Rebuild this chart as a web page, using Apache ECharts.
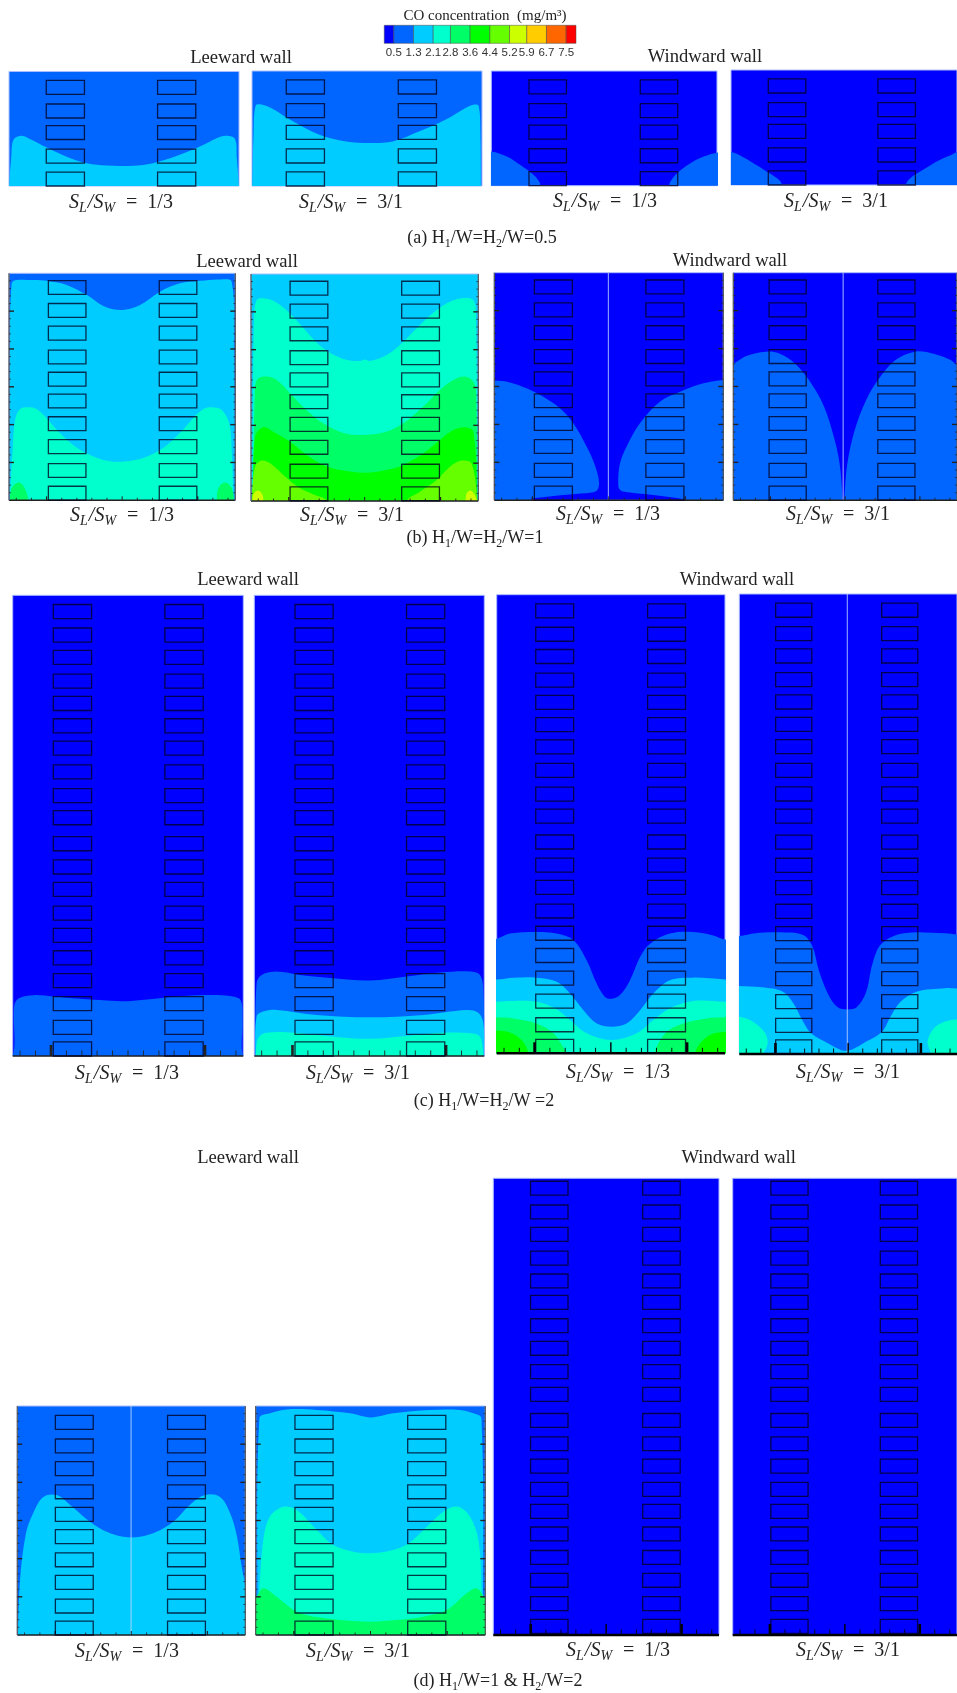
<!DOCTYPE html>
<html><head><meta charset="utf-8">
<style>html,body{margin:0;padding:0;background:#fff}#c{width:957px;height:1693px;filter:blur(0.55px)}</style>
<script src="https://cdn.jsdelivr.net/npm/echarts@6/dist/echarts.min.js"></script>
</head><body><div id="c"></div>
<script>
// ---- colour scale (mg/m3)
const levels = [0.5,1.3,2.1,2.8,3.6,4.4,5.2,5.9,6.7,7.5];
const legendEnds = [0.11,7.9];
const levelColors = ['#0000ff','#0066ff','#00ccff','#00ffcc','#00ff66','#00ff00','#66ff00','#ccff00','#ffcc00','#ff6600','#ff0000'];
// ---- contour boundaries: [position along wall, height in storeys]
const a1L2 = [[.01,0],[.1,1.28],[.19,2.01],[.51,2.19],[.84,2.09],[1.64,1.68],[2.51,1.28],[3.38,.99],[4.25,.89],[4.97,.87],[5.84,.92],[6.57,1.08],[7.43,1.36],[8.3,1.72],[9.03,2.09],[9.46,2.19],[9.83,2.04],[9.9,1.28],[9.99,0]];
const a2L2 = [[.01,0],[.07,2.3],[.16,3.5],[.41,3.54],[.91,3.35],[1.78,2.81],[2.93,2.23],[4.09,1.94],[5.1,1.87],[6.12,1.94],[7.28,2.38],[8.43,2.89],[9.3,3.4],[9.67,3.54],[9.86,3.47],[9.93,2.3],[9.95,0]];
const a3L1a = [[0,1.49],[.69,1.27],[1.29,.9],[1.88,.47],[2.13,.17],[2.17,0]];
const a3L1b = [[10,1.44],[9.41,1.27],[8.82,.98],[8.23,.54],[7.93,.17],[7.89,0]];
const a4L1a = [[0,1.43],[.54,1.21],[1.12,.87],[1.7,.51],[2.13,.22],[2.25,0]];
const a4L1b = [[10,1.42],[9.81,1.34],[9.23,1.09],[8.5,.66],[7.93,.29],[7.74,0]];
const b1L2 = [[.02,0],[.04,6.62],[.12,9.56],[.34,9.7],[1.07,9.7],[1.74,9.66],[2.55,9.49],[3.43,9.05],[4.17,8.56],[4.98,8.38],[5.79,8.6],[6.67,9.19],[7.55,9.56],[8.44,9.67],[9.32,9.73],[9.84,9.63],[9.94,6.62],[9.97,0]];
const b1L3 = [[.04,0],[.16,2.22],[.27,3.55],[.49,4.02],[.85,4.1],[1.22,4.02],[1.66,3.62],[2.25,2.96],[2.92,2.37],[3.73,1.93],[4.46,1.72],[5.2,1.72],[5.93,1.86],[6.81,2.3],[7.55,2.96],[8.14,3.62],[8.59,4.02],[8.95,4.1],[9.4,3.98],[9.73,3.39],[9.84,2.22],[9.91,0]];
const b1L4a = [[.04,0],[.12,.53],[.41,.78],[.66,.6],[.85,0]];
const b1L4b = [[9.18,0],[9.25,.53],[9.54,.78],[9.84,.53],[9.94,0]];
const b2L3 = [[.06,0],[.13,8.12],[.25,8.85],[.54,8.93],[1.06,8.78],[1.72,8.26],[2.45,7.46],[3.18,6.73],[4.06,6.26],[4.79,6.17],[5.01,6.23],[5.23,6.17],[5.97,6.43],[6.7,7.02],[7.43,7.75],[8.17,8.41],[8.75,8.78],[9.27,8.93],[9.78,8.85],[9.9,8.12],[9.96,0]];
const b2L4 = [[.1,0],[.18,5.04],[.32,5.4],[.69,5.48],[1.13,5.33],[1.72,4.74],[2.45,4.0],[3.18,3.42],[4.06,3.0],[5.01,2.91],[5.97,3.06],[6.7,3.42],[7.58,4.16],[8.31,4.89],[8.9,5.33],[9.41,5.48],[9.78,5.26],[9.9,4.74],[9.96,0]];
const b2L5 = [[.1,0],[.18,2.83],[.54,3.25],[.98,3.05],[1.72,2.61],[2.45,2.03],[3.18,1.59],[4.06,1.34],[5.01,1.25],[5.97,1.37],[6.7,1.59],[7.58,2.1],[8.31,2.69],[8.9,3.13],[9.41,3.25],[9.78,3.05],[9.96,0]];
const b2L6a = [[.03,0],[.18,1.51],[.47,1.78],[.84,1.66],[1.42,1.15],[2.16,.56],[2.82,.26],[3.33,0]];
const b2L6b = [[6.85,0],[7.43,.41],[8.17,.93],[8.75,1.51],[9.27,1.78],[9.7,1.66],[9.96,0]];
const b2L7a = [[.06,0],[.13,.34],[.32,.46],[.51,.26],[.54,0]];
const b2L7b = [[9.44,0],[9.49,.34],[9.66,.46],[9.85,.26],[9.93,0]];
const b3L1a = [[0,5.26],[.68,5.18],[1.41,4.92],[2.14,4.55],[2.87,4.04],[3.45,3.38],[4.03,2.36],[4.39,1.55],[4.57,.82],[4.5,.45],[4.25,.34],[3.3,.26],[1.7,.09],[1.57,0]];
const b3L1b = [[10,5.29],[9.13,5.14],[8.11,4.77],[7.23,4.33],[6.36,3.38],[5.78,2.36],[5.49,1.63],[5.41,.82],[5.49,.45],[5.92,.34],[6.94,.23],[8.33,.04],[8.4,0]];
const b4L1a = [[0,6.02],[.58,6.34],[1.45,6.53],[2.03,6.46],[2.75,6.02],[3.48,5.14],[4.06,4.11],[4.49,2.8],[4.75,1.63],[4.88,.23],[4.89,0]];
const b4L1b = [[10,5.95],[9.72,6.16],[8.99,6.43],[8.12,6.53],[7.25,6.16],[6.52,5.36],[5.94,4.41],[5.43,3.09],[5.1,1.63],[4.97,.23],[4.96,0]];
const c1L1 = [[0,0],[.06,2.14],[.25,2.5],[.9,2.64],[1.76,2.58],[2.92,2.48],[4.08,2.41],[5.01,2.38],[5.95,2.46],[7.11,2.58],[8.41,2.65],[9.42,2.61],[9.88,2.43],[9.97,1.57],[10,0]];
const c2L1 = [[.04,0],[.1,3.16],[.32,3.52],[.97,3.67],[1.99,3.52],[3.43,3.38],[5.03,3.28],[6.62,3.45],[8.07,3.62],[9.38,3.67],[9.81,3.52],[9.96,2.87],[9.99,0]];
const c2L2 = [[.04,0],[.1,1.71],[.39,1.93],[.97,2],[2.71,1.78],[5.03,1.68],[7.35,1.78],[9.23,2],[9.74,1.88],[9.96,1.42],[9.99,0]];
const c2L3 = [[.07,0],[.17,.77],[.54,1.01],[1.99,.99],[3.43,.84],[5.03,.75],[6.62,.87],[8.22,1.01],[9.38,.99],[9.81,.84],[9.96,0]];
const c3L1 = [[0,5],[.58,5.22],[1.75,5.29],[2.63,5.22],[3.36,4.93],[3.94,4.06],[4.38,3.04],[4.74,2.46],[5.04,2.38],[5.4,2.54],[5.84,3.19],[6.28,4.2],[6.72,4.78],[7.59,5.22],[8.61,5.29],[9.49,5.14],[10,4.96]];
const c3L2 = [[0,3.22],[.73,3.3],[1.75,3.3],[2.63,3.12],[3.21,2.61],[3.8,1.88],[4.38,1.3],[5.04,1.16],[5.69,1.3],[6.28,1.88],[6.86,2.61],[7.59,3.19],[8.61,3.3],[10,3.22]];
const c3L3 = [[0,2.25],[.73,2.28],[1.75,2.25],[2.55,1.96],[3.21,1.45],[3.94,.87],[5.04,.58],[6.13,.87],[6.86,1.45],[7.59,1.96],[8.61,2.28],[10,2.25]];
const c3L4a = [[0,1.57],[.73,1.52],[1.75,1.3],[2.48,.87],[2.99,.14],[3.07,0]];
const c3L4b = [[10,1.57],[9.2,1.52],[8.18,1.3],[7.45,.94],[7.01,.29],[6.93,0]];
const c3L5a = [[0,.99],[.58,.91],[1.09,.58],[1.39,0]];
const c3L5b = [[10,.94],[9.34,.8],[8.9,.43],[8.69,0]];
const c4L1 = [[0,5.13],[.75,5.25],[1.77,5.29],[2.93,5.17],[3.36,4.67],[3.65,3.65],[4.09,2.58],[4.52,2.03],[4.96,1.94],[5.39,2.03],[5.83,2.71],[6.12,3.94],[6.55,4.81],[7.57,5.25],[9.46,5.25],[10,5.2]];
const c4L2 = [[0,2.96],[1.04,2.9],[2.0,2.71],[2.49,2.2],[2.93,1.41],[3.3,.9],[4.09,.46],[4.93,.14],[5.83,.54],[6.55,.97],[6.99,1.7],[7.42,2.28],[8.14,2.71],[9.46,2.86],[10,2.85]];
const c4L3a = [[0,1.62],[.61,1.41],[1.19,.9],[1.3,.46],[1.12,0]];
const c4L3b = [[10,1.5],[9.46,1.41],[8.94,1.12],[8.65,.54],[8.8,0]];
const d1L2 = [[.03,0],[.12,2.4],[.38,4.44],[.7,5.33],[1.14,6.03],[1.73,6.11],[2.32,5.68],[3.19,4.95],[3.92,4.51],[4.65,4.29],[5.38,4.29],[6.11,4.51],[6.84,4.95],[7.57,5.68],[8.23,6.11],[8.89,6.03],[9.33,5.33],[9.62,4.37],[9.84,2.98],[9.99,2.11],[9.99,0]];
const d2L2 = [[.07,0],[.16,9.46],[.62,9.68],[1.35,9.85],[2.66,9.83],[4.11,9.68],[5.01,9.5],[5.99,9.68],[7.59,9.83],[8.9,9.83],[9.48,9.68],[9.83,9.46],[9.91,0]];
const d2L3 = [[.07,0],[.16,1.97],[.33,4.15],[.62,5.17],[1.2,5.6],[1.79,5.46],[2.66,4.59],[3.38,3.93],[4.25,3.64],[5.01,3.57],[5.85,3.68],[6.65,4],[7.45,4.73],[8.24,5.43],[8.82,5.6],[9.33,5.17],[9.7,4.15],[9.84,1.97],[9.91,0]];
const d2L4 = [[0,1.67],[.33,2.04],[.91,1.67],[1.79,1.02],[2.8,.76],[3.96,.63],[5.01,.58],[6.14,.65],[7.3,.8],[8.32,1.09],[9.19,1.82],[9.62,2.04],[10,1.67]];
// ---- window sills (storeys)
const sillsA = [0,1,2.03,2.97,4];
const sillsB = [.01,1.01,2.06,3.07,4.07,5.03,6.01,7.06,8.06,9.07];
const sillsC = [0,.94,1.97,2.97,3.96,4.93,5.9,6.93,7.9,8.91,10.04,11,12.03,13.06,14.03,15,15.97,17,17.97,18.99];
const sillsD10 = [0,.96,1.99,2.98,3.99,4.96,5.95,6.96,7.95,8.98];
const sillsD20 = [.07,1.07,2.09,3.09,4.12,5.11,6.07,7.09,8.07,9.09,10.23,11.23,12.25,13.24,14.26,15.2,16.2,17.24,18.22,19.26];
const windowSize = [1.66,.61];
// ---- ticks
const tickX = [.32,.99,1.66,2.33,3,3.66,4.33,5,5.67,6.34,7,7.67,8.34,9.01,9.68];
const majorTickX = [1.66,5,8.34];
const sideTickStep = 1/3, sideMajor = 5;
// ---- text
const sideTitles = ['Leeward wall','Windward wall'];
const ratioText = ['1/3','3/1'];
const captionText = ['{n|(a) H}{s|1}{n|/W=H}{s|2}{n|/W=0.5}','{n|(b) H}{s|1}{n|/W=H}{s|2}{n|/W=1}','{n|(c) H}{s|1}{n|/W=H}{s|2}{n|/W =2}','{n|(d) H}{s|1}{n|/W=1 & H}{s|2}{n|/W=2}'];

const frameAir = {edge:'#9fb4ff'};
const panels = [
 {box:[9,71.5,230,114.5],h:5,bg:1,bands:[[2,a1L2]],sills:sillsA,wx:[1.62,6.46]},
 {box:[252,71,230,115],h:5,bg:1,bands:[[2,a2L2]],sills:sillsA,wx:[1.49,6.36]},
 {box:[491.3,71,225.7,114.7],h:5,bg:0,bands:[[1,a3L1a],[1,a3L1b]],sills:sillsA,wx:[1.67,6.6]},
 {box:[731,70,230,115],h:5,bg:0,bands:[[1,a4L1a],[1,a4L1b]],sills:sillsA,wx:[1.65,6.5]},
 {box:[9,273.3,226.3,227],h:10,bg:1,bands:[[2,b1L2],[3,b1L3],[4,b1L4a],[4,b1L4b]],sills:sillsB,wx:[1.74,6.64],tick:'b',side:true},
 {box:[251,274,227.3,227],h:10,bg:2,bands:[[3,b2L3],[4,b2L4],[5,b2L5],[6,b2L6a],[6,b2L6b],[7,b2L7a],[7,b2L7b]],sills:sillsB,wx:[1.72,6.63],tick:'b',side:true},
 {box:[494.3,272.7,229,227.6],h:10,bg:0,bands:[[1,b3L1a],[1,b3L1b]],sills:sillsB,wx:[1.75,6.62],tick:'b',side:true,mid:4.98},
 {box:[733.3,272.7,230,227.6],h:10,bg:0,bands:[[1,b4L1a],[1,b4L1b]],sills:sillsB,wx:[1.6,6.46],tick:'b',side:true,mid:4.91},
 {box:[12.7,595.3,230.6,460.7],h:20,bg:0,bands:[[1,c1L1]],sills:sillsC,wx:[1.76,6.6],tick:'c'},
 {box:[254.3,595.3,230,460.7],h:20,bg:0,bands:[[1,c2L1],[2,c2L2],[3,c2L3]],sills:sillsC,wx:[1.77,6.62],tick:'c'},
 {box:[496.7,594.7,228.3,458.6],h:20,bg:0,bands:[[1,c3L1],[2,c3L2],[3,c3L3],[4,c3L4a],[4,c3L4b],[5,c3L5a],[5,c3L5b]],sills:sillsC,wx:[1.71,6.61],tick:'d'},
 {box:[739.3,594,230,460],h:20,bg:0,bands:[[1,c4L1],[2,c4L2],[3,c4L3a],[3,c4L3b]],sills:sillsC,wx:[1.67,6.54],tick:'d',mid:4.96},
 {box:[17.3,1406,228,229],h:10,bg:1,bands:[[2,d1L2]],sills:sillsD10,wx:[1.67,6.59],tick:'b',side:true,mid:4.99},
 {box:[255.7,1406,229.6,229],h:10,bg:1,bands:[[2,d2L2],[3,d2L3],[4,d2L4]],sills:sillsD10,wx:[1.71,6.62],tick:'b',side:true},
 {box:[493.3,1178.3,225.7,456.7],h:20,bg:0,bands:[],sills:sillsD20,wx:[1.65,6.62],tick:'d'},
 {box:[732.7,1178.3,230,456.7],h:20,bg:0,bands:[],sills:sillsD20,wx:[1.7,6.58],tick:'d'}
];
const tickStyles = {
 b:{minor:2.5,major:4,majorW:1.2,mid:4,midW:1,base:1.6,color:'#222'},
 c:{minor:5.5,major:11,majorW:2.6,mid:5.5,midW:1,base:1.6,color:'#222'},
 d:{minor:5.5,major:11,majorW:2.6,mid:11,midW:1.4,base:2.4,color:'#000'}
};

function outline(pts){
  const p = pts.slice();
  const a = p[0], z = p[p.length-1];
  if (z[0]<=0 || z[0]>=10) p.push([z[0]<=0?-.6:10.6, z[1]]);
  if (a[0]<=0 || a[0]>=10) p.unshift([a[0]<=0?-.6:10.6, a[1]]);
  const l = p[p.length-1], f = p[0];
  p.push([l[0],-1],[f[0],-1]);
  return p;
}

const grid=[],xAxis=[],yAxis=[],series=[],title=[];
panels.forEach((P,i)=>{
  grid.push({left:P.box[0],top:P.box[1],width:P.box[2],height:P.box[3],show:true,backgroundColor:levelColors[P.bg],borderWidth:1,borderColor:'#a9bcff'});
  xAxis.push({type:'value',gridIndex:i,min:0,max:10,show:false});
  yAxis.push({type:'value',gridIndex:i,min:0,max:P.h,show:false});
  series.push({type:'custom',xAxisIndex:i,yAxisIndex:i,clip:true,z:2,silent:true,
    data:P.bands.map((b,k)=>[k]),
    renderItem:(params,api)=>{
      const b=P.bands[api.value(0)];
      return {type:'polygon',shape:{points:outline(b[1]).map(q=>api.coord(q)),smooth:.35},style:{fill:levelColors[b[0]]}};
    }});
  // centre seam + axis frame + ticks
  series.push({type:'custom',xAxisIndex:i,yAxisIndex:i,clip:false,z:3,silent:true,data:[[0]],
    renderItem:(params,api)=>{
      const ch=[];
      const seg=(a,b,w,c)=>ch.push({type:'line',shape:{x1:a[0],y1:a[1],x2:b[0],y2:b[1]},style:{stroke:c,lineWidth:w}});
      if(P.mid!=null) seg(api.coord([P.mid,0]),api.coord([P.mid,P.h]),1,'rgba(190,215,255,.85)');
      if(P.tick){
        const T=tickStyles[P.tick];
        tickX.forEach(x=>{
          const c=api.coord([x,0]);
          const isMid=x===5,isMajor=majorTickX.includes(x)&&!isMid;
          const len=isMid?T.mid:isMajor?T.major:T.minor, w=isMid?T.midW:isMajor?T.majorW:.9;
          seg(c,[c[0],c[1]-len],w,T.color);
        });
        const l=api.coord([0,0]),r=api.coord([10,0]);
        seg(l,r,T.base,T.color);
      }
      if(P.side){
        const l=api.coord([0,0]),t=api.coord([0,P.h]),r=api.coord([10,0]),rt=api.coord([10,P.h]);
        seg(l,t,1.2,'#555'); seg(r,rt,1.2,'#555');
        for(let k=1;k<P.h/sideTickStep;k++){
          const y=Math.round(k)*sideTickStep, L=api.coord([0,y]), R=api.coord([10,y]);
          const len=k%sideMajor===0?5:2;
          seg(L,[L[0]+len,L[1]],k%sideMajor===0?1.4:.7,'#222');
          seg(R,[R[0]-len,R[1]],k%sideMajor===0?1.4:.7,'#222');
        }
      }
      return {type:'group',children:ch};
    }});
  // windows
  const win=[];
  P.wx.forEach(x=>P.sills.forEach(s=>win.push([x,s])));
  series.push({type:'custom',xAxisIndex:i,yAxisIndex:i,clip:false,z:4,silent:true,data:win,
    renderItem:(params,api)=>{
      const a=api.coord([api.value(0),api.value(1)+windowSize[1]]);
      const b=api.coord([api.value(0)+windowSize[0],api.value(1)]);
      return {type:'rect',shape:{x:a[0],y:a[1],width:b[0]-a[0],height:b[1]-a[1]},style:{fill:'none',stroke:'rgba(0,0,30,.78)',lineWidth:1.3}};
    }});
});
// legend bar
const li=panels.length;
grid.push({left:384,top:25.3,width:192,height:18,show:false});
xAxis.push({type:'value',gridIndex:li,min:.1,max:7.9,axisLine:{show:false},axisTick:{show:false},splitLine:{show:false},
  axisLabel:{customValues:levels,formatter:v=>v.toFixed(1),fontFamily:'Liberation Sans',fontSize:11.5,color:'#333',margin:4,hideOverlap:false}});
yAxis.push({type:'value',gridIndex:li,min:0,max:1,show:false});
const edges=[legendEnds[0],...levels,legendEnds[1]];
series.push({type:'custom',xAxisIndex:li,yAxisIndex:li,silent:true,z:2,data:levelColors.map((c,k)=>[edges[k],edges[k+1]]),
  renderItem:(params,api)=>{
    const a=api.coord([api.value(0),1]),b=api.coord([api.value(1),0]);
    return {type:'rect',shape:{x:a[0],y:a[1],width:b[0]-a[0],height:b[1]-a[1]},style:{fill:levelColors[params.dataIndex],stroke:'rgba(70,70,70,.7)',lineWidth:.7}};
  }});

const serif='Liberation Serif';
const tx=(text,x,y,fs,extra)=>title.push({text,left:x,top:y,padding:0,textAlign:'center',textVerticalAlign:'middle',
  textStyle:Object.assign({fontFamily:serif,fontSize:fs,fontWeight:'normal',color:'#222'},extra||{})});
tx('CO concentration  (mg/m³)',485,16,15);
[[241,58,705,57],[247,262,730,261],[248,580,737,580],[248,1158,738.7,1158]].forEach(r=>{
  tx(sideTitles[0],r[0],r[1],18.6); tx(sideTitles[1],r[2],r[3],18.6);
});
const mathRich={i:{fontFamily:serif,fontStyle:'italic',fontSize:20,color:'#222',lineHeight:24,verticalAlign:'middle'},
  s:{fontFamily:serif,fontStyle:'italic',fontSize:14,color:'#222',lineHeight:24,verticalAlign:'bottom',padding:[0,1,0,0]},
  n:{fontFamily:serif,fontSize:20,color:'#222',lineHeight:24,verticalAlign:'middle'}};
[[121,203,0],[351,203,1],[605,202,0],[836,202,1],[122,516,0],[352,516,1],[608,515,0],[838,515,1],
 [127,1074,0],[358,1074,1],[618,1073,0],[848,1073,1],[127,1652,0],[358,1652,1],[618,1651,0],[848,1651,1]].forEach(r=>{
  tx('{i|S}{s|L}{i|/S}{s|W}{n|  =  '+ratioText[r[2]]+'}',r[0],r[1],20,{rich:mathRich});
});
const capRich={n:{fontFamily:serif,fontSize:18,color:'#222',lineHeight:24,verticalAlign:'middle'},
  s:{fontFamily:serif,fontSize:12,color:'#222',lineHeight:24,verticalAlign:'bottom'}};
[[482,238],[475,538],[484,1101],[498,1681]].forEach((r,k)=>tx(captionText[k],r[0],r[1],18,{rich:capRich}));

const chart=echarts.init(document.getElementById('c'),null,{renderer:'canvas'});
chart.setOption({animation:false,backgroundColor:'#fff',title,grid,xAxis,yAxis,series});
</script></body></html>
